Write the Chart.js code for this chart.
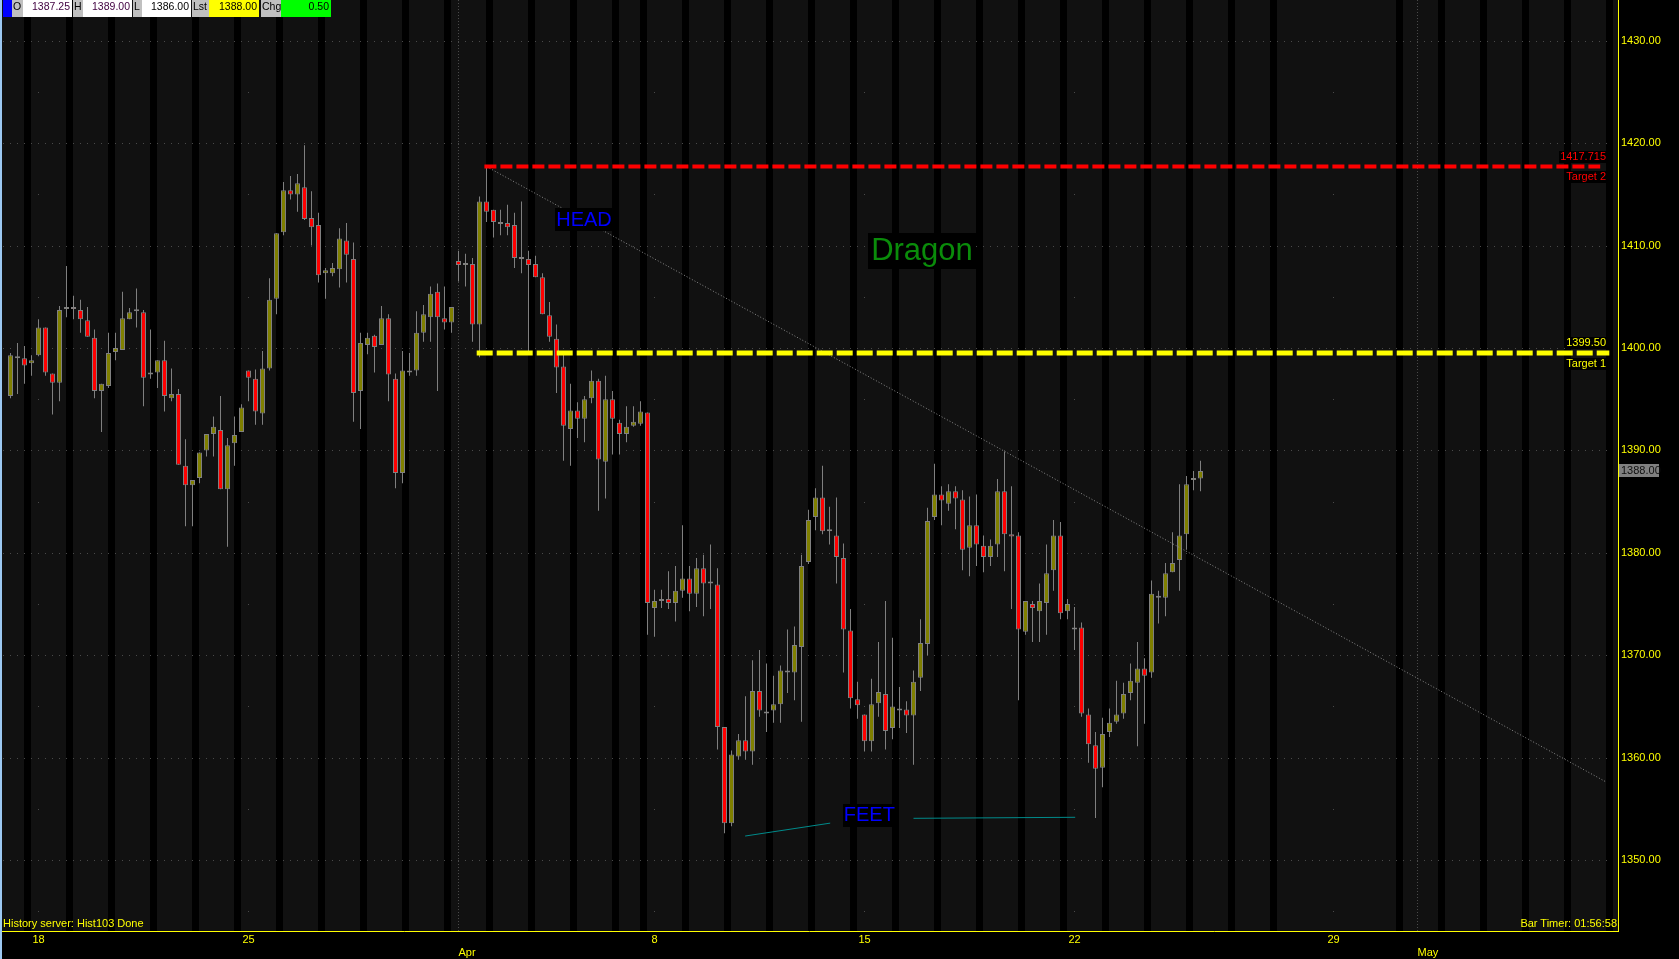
<!DOCTYPE html>
<html>
<head>
<meta charset="utf-8">
<title>Dragon</title>
<script src="https://cdn.jsdelivr.net/npm/chart.js@4"></script>
<style>
  html, body { margin: 0; padding: 0; background: #000; }
  #wrap { position: relative; width: 1679px; height: 959px; overflow: hidden; background: #000; }
  #chart { position: absolute; left: 0; top: 0; }
  .edge { position: absolute; left: 0; top: 0; width: 2px; height: 959px; background: #9cc8f2; }
  .hd { position: absolute; top: 0; height: 17px; line-height: 17px; font: 10.5px Arial, "Liberation Sans", sans-serif; color: #000; box-sizing: border-box; white-space: nowrap; }
  .lb { background: #c0c0c0; padding-left: 1px; }
  .vl { background: #fff; text-align: right; padding-right: 2px; }
  .status { position: absolute; top: 917px; font: 11px Arial, "Liberation Sans", sans-serif; color: #ffff00; line-height: 13px; white-space: nowrap; }
</style>
</head>
<body>
<div id="wrap">
  <canvas id="chart" width="1679" height="959"></canvas>
  <div class="edge"></div>

  <!-- HEADER -->
  <div class="hd" style="left:3px;width:9px;background:#0000ff"></div>
  <div class="hd lb" style="left:12px;width:11px">O</div>
  <div class="hd vl" style="left:23px;width:49px;color:#400040">1387.25</div>
  <div class="hd lb" style="left:73px;width:10px">H</div>
  <div class="hd vl" style="left:83px;width:49px;color:#400040">1389.00</div>
  <div class="hd lb" style="left:133px;width:9px">L</div>
  <div class="hd vl" style="left:142px;width:49px">1386.00</div>
  <div class="hd lb" style="left:192px;width:17px">Lst</div>
  <div class="hd vl" style="left:209px;width:50px;background:#ffff00">1388.00</div>
  <div class="hd lb" style="left:261px;width:20px">Chg</div>
  <div class="hd vl" style="left:281px;width:50px;background:#00ff00">0.50</div>

  <!-- STATUS -->
  <div class="status" style="left:3px">History server: Hist103 Done</div>
  <div class="status" style="right:62px">Bar Timer: 01:56:58</div>
</div>

<script>
// DATA - 4h bars (6 per session)
const opens = [
  1395.3, 1399.0, 1399.0, 1398.5, 1399.3, 1402.0, 1397.5, 1396.6, 1403.8, 1404.0,
  1403.7, 1402.7, 1401.0, 1395.8, 1396.3, 1399.6, 1399.8, 1402.8, 1403.6, 1403.5,
  1397.4, 1397.6, 1398.8, 1395.1, 1395.5, 1388.5, 1386.6, 1387.3, 1390.0, 1391.6,
  1392.0, 1386.2, 1390.7, 1391.8, 1397.8, 1397.0, 1393.6, 1398.0, 1404.8, 1411.3,
  1415.4, 1415.0, 1415.7, 1412.7, 1412.0, 1407.3, 1407.3, 1407.7, 1410.5, 1408.7,
  1395.8, 1400.3, 1401.2, 1400.3, 1402.9, 1397.0, 1387.8, 1397.8, 1397.8, 1401.5,
  1403.0, 1405.5, 1402.9, 1402.5, 1408.5, 1408.1, 1408.2, 1402.3, 1414.3, 1413.5,
  1412.1, 1412.2, 1412.0, 1408.7, 1408.7, 1408.2, 1406.9, 1403.2, 1400.9, 1398.2,
  1392.1, 1393.9, 1393.1, 1395.1, 1396.8, 1388.9, 1395.0, 1392.7, 1391.6, 1392.4,
  1392.6, 1393.7, 1374.6, 1375.3, 1375.5, 1375.1, 1376.3, 1377.5, 1376.0, 1378.5,
  1377.0, 1376.9, 1363.0, 1353.6, 1360.1, 1361.7, 1360.6, 1366.5, 1364.3, 1364.6,
  1365.2, 1368.5, 1368.3, 1370.8, 1379.1, 1383.5, 1385.4, 1382.1, 1381.7, 1379.5,
  1372.4, 1365.7, 1364.2, 1361.6, 1365.3, 1366.2, 1362.9, 1364.8, 1364.7, 1364.1,
  1367.8, 1371.1, 1383.5, 1385.7, 1384.8, 1386.0, 1385.2, 1380.5, 1382.7, 1380.7,
  1379.6, 1380.8, 1386.0, 1381.8, 1381.7, 1372.3, 1375.0, 1374.3, 1375.1, 1378.3,
  1381.7, 1374.3, 1372.5, 1372.7, 1364.2, 1361.2, 1359.0, 1362.5, 1363.5, 1364.3,
  1366.3, 1367.3, 1368.7, 1368.3, 1375.8, 1375.6, 1378.1, 1379.3, 1381.8, 1387.1,
  1387.25
];
const highs = [
  1399.5, 1400.5, 1400.2, 1399.3, 1402.8, 1402.0, 1397.5, 1404.1, 1408.0, 1405.1,
  1404.7, 1404.0, 1401.8, 1396.5, 1401.5, 1401.5, 1405.5, 1403.9, 1405.8, 1403.7,
  1401.8, 1398.8, 1400.7, 1398.0, 1396.0, 1391.1, 1387.1, 1389.8, 1391.6, 1393.3,
  1395.3, 1391.2, 1393.3, 1394.5, 1397.8, 1397.9, 1399.7, 1406.8, 1411.2, 1416.2,
  1416.8, 1417.0, 1419.8, 1415.3, 1413.2, 1407.8, 1408.3, 1411.7, 1412.2, 1410.3,
  1401.5, 1401.5, 1401.3, 1404.1, 1403.3, 1397.5, 1399.7, 1399.5, 1403.6, 1404.2,
  1406.0, 1406.3, 1406.0, 1404.0, 1409.5, 1409.2, 1408.8, 1414.8, 1417.7, 1413.5,
  1413.5, 1414.0, 1413.2, 1414.3, 1409.5, 1409.0, 1407.3, 1404.5, 1402.3, 1399.5,
  1396.5, 1394.7, 1395.3, 1397.8, 1397.0, 1397.3, 1395.8, 1393.0, 1394.3, 1394.3,
  1394.8, 1393.7, 1376.4, 1376.4, 1378.2, 1378.7, 1382.7, 1378.7, 1379.5, 1379.8,
  1380.8, 1378.5, 1363.0, 1360.7, 1362.3, 1366.0, 1369.5, 1370.5, 1369.2, 1368.0,
  1369.0, 1372.5, 1372.8, 1379.8, 1384.2, 1386.3, 1388.5, 1384.5, 1385.4, 1380.9,
  1374.5, 1367.4, 1364.2, 1367.7, 1371.3, 1375.3, 1371.7, 1366.9, 1365.5, 1368.5,
  1373.5, 1384.4, 1388.7, 1386.5, 1386.7, 1386.5, 1386.1, 1385.5, 1385.7, 1381.7,
  1381.3, 1387.2, 1389.9, 1386.5, 1382.0, 1375.3, 1375.3, 1377.0, 1380.8, 1383.2,
  1383.0, 1375.5, 1374.7, 1373.2, 1364.8, 1362.5, 1363.9, 1364.8, 1367.5, 1367.3,
  1369.2, 1371.3, 1369.7, 1377.3, 1376.3, 1379.0, 1382.0, 1386.7, 1387.5, 1388.0,
  1389.0
];
const lows = [
  1395.1, 1395.5, 1396.5, 1397.3, 1399.2, 1397.3, 1393.5, 1394.8, 1403.0, 1402.8,
  1401.5, 1401.1, 1395.1, 1391.8, 1396.1, 1398.8, 1399.8, 1402.8, 1402.0, 1394.3,
  1397.0, 1396.1, 1393.8, 1394.8, 1388.6, 1382.6, 1382.6, 1386.8, 1389.4, 1389.4,
  1386.2, 1380.6, 1388.5, 1391.8, 1394.8, 1392.5, 1392.5, 1397.8, 1403.3, 1411.0,
  1414.5, 1413.3, 1412.5, 1410.0, 1406.4, 1404.8, 1407.0, 1405.9, 1406.4, 1392.8,
  1392.1, 1399.4, 1397.6, 1400.3, 1394.8, 1386.3, 1386.8, 1397.3, 1397.3, 1400.6,
  1400.6, 1395.8, 1401.8, 1401.5, 1406.5, 1406.0, 1400.6, 1399.1, 1412.3, 1410.8,
  1411.0, 1411.0, 1407.8, 1407.3, 1399.6, 1406.9, 1403.3, 1400.6, 1395.6, 1389.0,
  1388.5, 1391.2, 1390.8, 1394.6, 1384.1, 1385.3, 1389.6, 1389.6, 1390.8, 1392.3,
  1392.4, 1372.0, 1371.8, 1374.6, 1374.5, 1373.3, 1375.6, 1374.3, 1374.7, 1373.8,
  1374.5, 1360.8, 1352.6, 1353.3, 1359.8, 1359.8, 1359.3, 1364.0, 1362.5, 1363.4,
  1363.4, 1366.3, 1365.6, 1363.5, 1378.9, 1382.2, 1381.8, 1380.8, 1377.0, 1368.3,
  1364.8, 1363.8, 1360.6, 1360.6, 1364.0, 1360.8, 1361.8, 1362.9, 1362.4, 1359.3,
  1366.5, 1370.0, 1383.2, 1382.7, 1384.1, 1382.3, 1378.3, 1377.7, 1378.7, 1378.1,
  1378.7, 1379.6, 1378.2, 1374.5, 1365.6, 1372.0, 1371.3, 1371.3, 1372.0, 1376.3,
  1373.5, 1373.5, 1370.5, 1364.0, 1359.5, 1354.1, 1357.1, 1362.0, 1363.3, 1363.8,
  1365.6, 1361.1, 1363.3, 1367.8, 1373.1, 1373.8, 1378.1, 1376.3, 1380.3, 1386.1,
  1386.0
];
const closes = [
  1399.3, 1399.2, 1398.3, 1398.8, 1402.0, 1397.6, 1396.6, 1403.7, 1404.0, 1403.8,
  1402.8, 1401.1, 1395.8, 1396.5, 1399.5, 1400.0, 1402.9, 1403.5, 1403.7, 1397.1,
  1397.6, 1398.8, 1395.3, 1395.5, 1388.6, 1386.6, 1387.1, 1389.8, 1391.6, 1392.3,
  1386.2, 1390.5, 1391.5, 1394.2, 1397.1, 1393.8, 1398.0, 1404.7, 1411.2, 1415.4,
  1415.0, 1416.1, 1412.6, 1411.8, 1407.1, 1407.6, 1407.8, 1410.7, 1409.1, 1395.6,
  1400.5, 1401.0, 1400.1, 1402.9, 1397.4, 1387.8, 1397.8, 1397.6, 1401.5, 1403.3,
  1405.3, 1403.0, 1402.5, 1404.0, 1408.1, 1408.3, 1402.3, 1414.3, 1413.3, 1412.3,
  1412.3, 1411.8, 1408.8, 1408.8, 1408.1, 1406.9, 1403.3, 1401.1, 1398.1, 1392.4,
  1393.9, 1393.1, 1395.0, 1396.8, 1389.1, 1395.0, 1393.1, 1391.6, 1392.3, 1392.8,
  1393.8, 1375.1, 1375.3, 1375.4, 1375.1, 1376.3, 1377.5, 1376.0, 1378.5, 1377.0,
  1377.1, 1363.0, 1353.6, 1360.3, 1361.7, 1360.6, 1366.5, 1364.6, 1364.4, 1365.2,
  1368.5, 1368.3, 1371.0, 1378.7, 1383.2, 1385.4, 1382.1, 1382.2, 1379.6, 1372.5,
  1365.8, 1365.1, 1361.6, 1365.2, 1366.4, 1362.6, 1365.0, 1364.6, 1364.1, 1367.4,
  1371.2, 1383.1, 1385.7, 1385.1, 1386.0, 1385.3, 1380.3, 1382.7, 1380.8, 1379.6,
  1380.7, 1386.0, 1381.8, 1381.6, 1372.5, 1375.3, 1374.6, 1375.3, 1378.0, 1381.7,
  1374.1, 1375.0, 1372.7, 1364.3, 1361.3, 1358.9, 1362.3, 1363.4, 1364.2, 1366.2,
  1367.5, 1368.7, 1368.0, 1376.0, 1375.6, 1378.0, 1379.0, 1381.7, 1386.7, 1387.3,
  1388.0
];

// X AXIS (bar index)
const dayTicks = [4, 34, 92, 122, 152, 189];
const dayLabels = ['18', '25', '8', '15', '22', '29'];
const monthTicks = [64, 201];
const monthLabels = ['Apr', 'May'];
// bars shaded black (overnight bar of each session)
const sessionBreaks = [
  2, 8, 14, 20, 26, 32, 38, 44, 50, 56, 62, 68, 74, 80, 86,
  90, 96, 102, 108, 114, 120, 126, 132, 138, 144, 150, 156, 162, 168, 174, 180,
  198, 204, 210, 216, 222, 228
];
const yTicks = [1350, 1360, 1370, 1380, 1390, 1400, 1410, 1420, 1430];

// DRAWINGS
const target1 = 1399.50;
const target2 = 1417.715;
const lastPrice = 1388.00;
const target1Line = [{x: 66.6, y: target1}, {x: 228.4, y: target1}];
const target2Line = [{x: 67.7, y: target2}, {x: 227.1, y: target2}];
const trendLine = [{x: 68.05, y: 1417.7}, {x: 228, y: 1357.6}];
const feetLeft = [{x: 104.95, y: 1352.34}, {x: 117.1, y: 1353.6}];
const feetRight = [{x: 129, y: 1354.07}, {x: 152.1, y: 1354.17}];
const notes = [
  {text: 'HEAD', x: 81.93, y: 1412.5},
  {text: 'Dragon', x: 130.21, y: 1409.47},
  {text: 'FEET', x: 122.69, y: 1354.33}
];

const FONT = 'Arial, "Liberation Sans", sans-serif';
Chart.defaults.font.family = FONT;

const bodyData = opens.map((o, i) => ({x: i, y: [o, closes[i]]}));
const wickData = lows.map((l, i) => ({x: i, y: [l, highs[i]]}));
const bodyColors = opens.map((o, i) => closes[i] >= o ? '#808000' : '#ff0000');

// BACKGROUND - panel, session stripes, dotted grid
const backPlugin = {
  id: 'back',
  beforeDraw(chart) {
    const {ctx, chartArea: a, scales: {x, y}} = chart;
    ctx.save();
    ctx.fillStyle = '#000';
    ctx.fillRect(0, 0, chart.width, chart.height);
    ctx.fillStyle = '#111111';
    ctx.fillRect(a.left, a.top, a.right - a.left, a.bottom - a.top);

    ctx.fillStyle = '#000';
    sessionBreaks.forEach(function(i){
      const x0 = Math.floor(x.getPixelForValue(i));
      const x1 = Math.floor(x.getPixelForValue(i + 1));
      ctx.fillRect(x0, a.top, x1 - x0, a.bottom - a.top);
    });

    ctx.fillStyle = '#4a4a4a';
    yTicks.forEach(function(v){
      const py = Math.round(y.getPixelForValue(v));
      for (let i = -1; i <= 228; i++) {
        ctx.fillRect(Math.floor(x.getPixelForValue(i)), py, 1, 1);
      }
    });
    dayTicks.forEach(function(t){
      const px = Math.floor(x.getPixelForValue(t));
      for (let v = 1345; v <= 1430; v += 5) {
        ctx.fillRect(px, Math.round(y.getPixelForValue(v)), 1, 1);
      }
    });
    monthTicks.forEach(function(t){
      const px = Math.floor(x.getPixelForValue(t));
      for (let py = a.top; py < a.bottom; py += 3) {
        ctx.fillRect(px, py, 1, 1);
      }
    });
    ctx.restore();
  }
};

function boxText(ctx, text, px, py, color, font, align, padX, boxH) {
  ctx.font = font;
  const w = ctx.measureText(text).width;
  const left = align === 'right' ? px - w : (align === 'center' ? px - w / 2 : px);
  ctx.fillStyle = '#000';
  ctx.fillRect(Math.round(left - padX), Math.round(py - boxH / 2), Math.round(w + padX * 2), boxH);
  ctx.fillStyle = color;
  ctx.textAlign = 'left';
  ctx.textBaseline = 'middle';
  ctx.fillText(text, left, py);
}

// TEXTS ON THE CHART
const notePlugin = {
  id: 'notes',
  afterDatasetsDraw(chart) {
    const {ctx, scales: {x, y}} = chart;
    ctx.save();
    const rx = x.getPixelForValue(227.93);
    const y2 = y.getPixelForValue(target2);
    const y1 = y.getPixelForValue(target1);
    boxText(ctx, target2.toFixed(3), rx, y2 - 9.5, '#ff0000', '11px ' + FONT, 'right', 1, 12);
    boxText(ctx, 'Target 2', rx, y2 + 10.5, '#ff0000', '11px ' + FONT, 'right', 1, 12);
    boxText(ctx, target1.toFixed(2), rx, y1 - 10, '#ffff00', '11px ' + FONT, 'right', 1, 12);
    boxText(ctx, 'Target 1', rx, y1 + 10.5, '#ffff00', '11px ' + FONT, 'right', 1, 12);

    notes.forEach(function(n){
      const big = n.text === 'Dragon';
      boxText(ctx, n.text, x.getPixelForValue(n.x), y.getPixelForValue(n.y),
        big ? '#0a8c0a' : '#0000ff',
        (big ? '31px ' : '20px ') + FONT, 'center', big ? 3 : 1, big ? 36 : 23);
    });
    ctx.restore();
  },
  afterDraw(chart) {
    const {ctx, scales: {y}} = chart;
    const py = y.getPixelForValue(lastPrice);
    ctx.save();
    ctx.fillStyle = '#808080';
    ctx.fillRect(1619, Math.round(py - 6.5), 40, 13);
    ctx.fillStyle = '#101010';
    ctx.font = '11px ' + FONT;
    ctx.textAlign = 'left';
    ctx.textBaseline = 'middle';
    ctx.fillText(lastPrice.toFixed(2), 1621, py);
    ctx.restore();
  }
};

// no edge padding from tick labels: plot fills the window
function noPad(s) {
  s.paddingTop = 0; s.paddingBottom = 0; s.paddingLeft = 0; s.paddingRight = 0;
}

const ctx = document.getElementById('chart');
const config = {
  type: 'bar',
  data: {
    datasets: [{
      type: 'line', data: target2Line, borderColor: '#ff0000', borderWidth: 4,
      borderDash: [12, 4], pointRadius: 0, order: 0
    }, {
      type: 'line', data: target1Line, borderColor: '#ffff00', borderWidth: 5,
      borderDash: [16, 4], pointRadius: 0, order: 0
    }, {
      type: 'line', data: trendLine, borderColor: '#8a8a8a', borderWidth: 1,
      borderDash: [1, 2], pointRadius: 0, order: 0
    }, {
      type: 'line', data: feetLeft, borderColor: '#008b8b', borderWidth: 1, pointRadius: 0, order: 0
    }, {
      type: 'line', data: feetRight, borderColor: '#008b8b', borderWidth: 1, pointRadius: 0, order: 0
    }, {
      label: 'body', data: bodyData, backgroundColor: bodyColors, borderColor: '#808080',
      borderWidth: 1, borderSkipped: false, barThickness: 5, grouped: false,
      minBarLength: 2, inflateAmount: 0, order: 1
    }, {
      label: 'wick', data: wickData, backgroundColor: '#808080', borderWidth: 0,
      barThickness: 1, grouped: false, inflateAmount: 0, order: 2
    }]
  },
  options: {
    responsive: false,
    devicePixelRatio: 1,
    animation: false,
    events: [],
    layout: { padding: 0 },
    plugins: { legend: { display: false }, tooltip: { enabled: false } },
    scales: {
      x: {
        type: 'linear', position: 'bottom', weight: 0, offset: false, bounds: 'data',
        min: -1.5, max: 229.643,
        afterBuildTicks: function(s){ s.ticks = dayTicks.map(v => ({value: v})); },
        afterFit: function(s){ s.height = 14; noPad(s); },
        grid: { display: false, drawTicks: false },
        border: { display: true, color: '#ffff00', width: 1 },
        ticks: {
          color: '#ffff00', font: { size: 11 }, padding: 2, autoSkip: false, maxRotation: 0,
          callback: function(v){ const k = dayTicks.indexOf(v); return k < 0 ? '' : dayLabels[k]; }
        }
      },
      xm: {
        type: 'linear', position: 'bottom', weight: 1, offset: false, bounds: 'data',
        min: -1.5, max: 229.643,
        afterBuildTicks: function(s){ s.ticks = monthTicks.map(v => ({value: v})); },
        afterFit: function(s){ s.height = 14; noPad(s); },
        grid: { display: false, drawTicks: false },
        border: { display: false },
        ticks: {
          color: '#ffff00', font: { size: 11 }, padding: 1, autoSkip: false, maxRotation: 0, align: 'start',
          callback: function(v){ const k = monthTicks.indexOf(v); return k < 0 ? '' : monthLabels[k]; }
        }
      },
      y: {
        type: 'linear', position: 'right', bounds: 'data',
        min: 1343.066, max: 1433.984,
        afterBuildTicks: function(s){ s.ticks = yTicks.map(v => ({value: v})); },
        afterFit: function(s){ s.width = 61; noPad(s); },
        grid: { display: false, drawTicks: false },
        border: { display: true, color: '#ffff00', width: 1 },
        ticks: {
          color: '#ffff00', font: { size: 11 }, padding: 3, crossAlign: 'near',
          callback: function(v){ return Number(v).toFixed(2); }
        }
      }
    }
  },
  plugins: [backPlugin, notePlugin]
};

const myChart = new Chart(ctx, config);
</script>
</body>
</html>
